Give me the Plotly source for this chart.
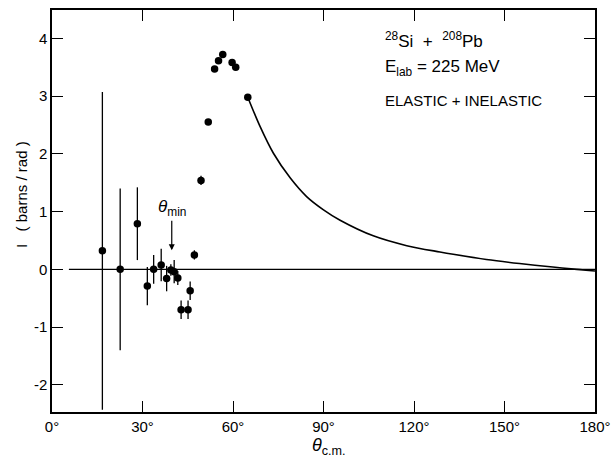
import plotly.graph_objects as go

# data points (theta c.m. in degrees, I in barns/rad, symmetric error)
theta_pts = [16.7, 22.6, 28.3, 31.6, 33.7, 36.2, 38.0, 39.4, 40.5, 41.7, 42.8, 45.1, 45.8, 47.2,
             49.4, 51.8, 53.9, 55.2, 56.6, 59.7, 60.9, 64.9]
I_pts = [0.32, 0.0, 0.79, -0.29, 0.0, 0.075, -0.16, -0.01, -0.04, -0.15, -0.70, -0.70, -0.37, 0.25,
         1.54, 2.55, 3.47, 3.61, 3.72, 3.58, 3.50, 2.98]
I_err = [2.75, 1.40, 0.63, 0.33, 0.25, 0.28, 0.22, 0.10, 0.20, 0.12, 0.16, 0.16, 0.16, 0.08,
         0.08, 0, 0, 0, 0, 0, 0, 0]

# calculated curve
theta_curve = [64.9, 69.0, 73.4, 79.0, 84.4, 90.0, 95.5, 106.5, 117.6, 128.6, 133.0,
               144.0, 155.0, 166.0, 174.0, 178.0, 180.0]
I_curve = [2.98, 2.47, 2.01, 1.58, 1.26, 1.03, 0.85, 0.58, 0.41, 0.30, 0.26,
           0.17, 0.10, 0.04, 0.0, -0.02, -0.03]

# zero reference line
zero_x = [5.6, 180.0]
zero_y = [0.0, 0.0]

x_ticks = [0, 30, 60, 90, 120, 150, 180]
x_ticktext = ["0°", "30°", "60°", "90°", "120°", "150°", "180°"]
y_ticks = [-2, -1, 0, 1, 2, 3, 4]
y_ticktext = ["-2", "-1", "0", "1", "2", "3", "4"]

theta_min = 39.7
theta_min_arrow_y = 0.33

FONT = "Liberation Sans"
BLACK = "black"

fig = go.Figure()
fig.add_trace(go.Scatter(x=zero_x, y=zero_y, mode="lines",
                         line=dict(color=BLACK, width=1.3), hoverinfo="skip"))
fig.add_trace(go.Scatter(x=theta_curve, y=I_curve, mode="lines",
                         line=dict(color=BLACK, width=1.6, shape="spline", smoothing=0.9)))
fig.add_trace(go.Scatter(x=theta_pts, y=I_pts, mode="markers",
                         marker=dict(color=BLACK, size=7.5),
                         error_y=dict(type="data", array=I_err, visible=True,
                                      color=BLACK, thickness=1.3, width=0)))

fig.add_annotation(x=theta_min, y=theta_min_arrow_y, xref="x", yref="y",
                   text="<i>θ</i><sub>min</sub>", showarrow=True,
                   ax=0, ay=-42, arrowhead=2, arrowsize=1, arrowwidth=1.2,
                   arrowcolor=BLACK, font=dict(size=17, color=BLACK, family=FONT))

fig.add_annotation(x=0.61, y=0.925, xref="paper", yref="paper", xanchor="left",
                   yanchor="middle", showarrow=False,
                   text="<sup>28</sup>Si  +  <sup>208</sup>Pb",
                   font=dict(size=17, color=BLACK, family=FONT))
fig.add_annotation(x=0.61, y=0.855, xref="paper", yref="paper", xanchor="left",
                   yanchor="middle", showarrow=False,
                   text="E<sub>lab</sub> = 225 MeV",
                   font=dict(size=17, color=BLACK, family=FONT))
fig.add_annotation(x=0.61, y=0.775, xref="paper", yref="paper", xanchor="left",
                   yanchor="middle", showarrow=False,
                   text="ELASTIC + INELASTIC",
                   font=dict(size=15, color=BLACK, family=FONT))

# axis titles as annotations for precise placement
fig.add_annotation(x=-0.055, y=0.54, xref="paper", yref="paper", textangle=-90,
                   xanchor="center", yanchor="middle",
                   showarrow=False, text="I   ( barns / rad )",
                   font=dict(size=15, color=BLACK, family=FONT))
fig.add_annotation(x=0.51, y=-0.087, xref="paper", yref="paper", showarrow=False,
                   xanchor="center", yanchor="middle",
                   text="<i>θ</i><sub>c.m.</sub>",
                   font=dict(size=18, color=BLACK, family=FONT))

axis_common = dict(showline=True, linecolor=BLACK, linewidth=1.5, mirror="ticks",
                   ticks="inside", ticklen=11, tickwidth=1.3, tickcolor=BLACK,
                   showgrid=False, zeroline=False, automargin=False,
                   tickfont=dict(size=15, color=BLACK, family=FONT))

fig.update_xaxes(range=[0, 180], tickvals=x_ticks, ticktext=x_ticktext, **axis_common)
fig.update_yaxes(range=[-2.47, 4.49], tickvals=y_ticks, ticktext=y_ticktext, **axis_common)

fig.update_layout(width=611, height=460, showlegend=False,
                  margin=dict(l=52, r=16, t=10, b=48),
                  plot_bgcolor="white", paper_bgcolor="white")

fig.write_html("out.html", config={"displayModeBar": False},
               post_script="document.body.style.margin='0';document.body.style.overflow='hidden';")
